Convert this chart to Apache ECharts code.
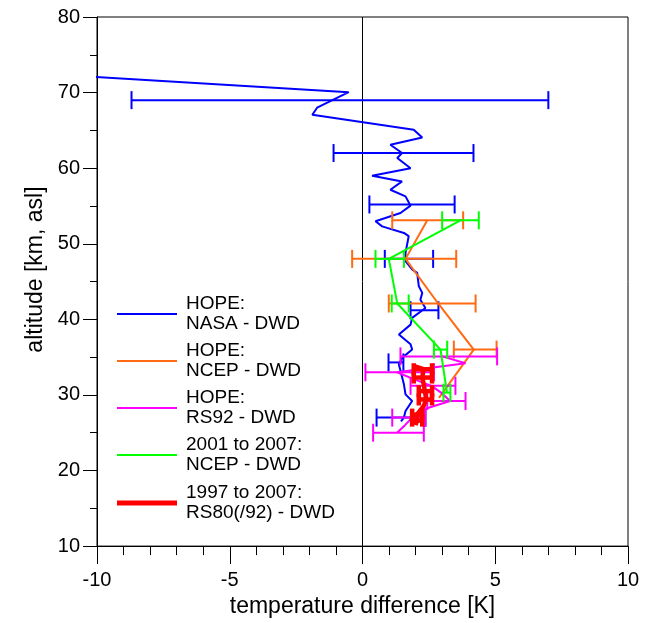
<!DOCTYPE html>
<html>
<head>
<meta charset="utf-8">
<script src="https://cdn.jsdelivr.net/npm/echarts@6/dist/echarts.min.js"></script>
<style>html,body{margin:0;padding:0;background:#fff;}#c{width:653px;height:623px;}</style>
</head>
<body>
<div id="c"></div>
<script>
// ---- data (temperature difference [K], altitude [km]) ----
const seriesNames = ["HOPE:\nNASA - DWD", "HOPE:\nNCEP - DWD", "HOPE:\nRS92 - DWD", "2001 to 2007:\nNCEP - DWD", "1997 to 2007:\nRS80(/92) - DWD"];
const xTickValues = [-10, -5, 0, 5, 10];
const yTickValues = [10, 20, 30, 40, 50, 60, 70, 80];

const nasaT = [-10.15, -0.52, -1.71, -1.89, 1.93, 2.25, 1.05, 1.49, 1.31, 1.81, 0.36, 1.49, 1.05, 1.62, 1.81, 1.43, 0.49, 0.74, 1.56, 1.74, 1.62, 1.62, 1.87, 2.06, 2.12, 2.25, 2.18, 2.37, 1.87, 1.81, 1.37, 1.81, 1.87, 1.49, 1.37, 1.56, 1.62, 1.87, 1.62, 1.56, 1.45];
const nasaAlt = [72.1, 70.06, 68.0, 67.06, 65.08, 64.06, 63.1, 62.0, 61.34, 60.0, 59.0, 58.25, 57.15, 56.27, 55.04, 54.07, 52.97, 52.3, 51.43, 51.0, 48.8, 47.7, 46.6, 46.15, 44.4, 43.5, 42.6, 41.5, 40.2, 39.3, 38.0, 36.7, 36.0, 34.9, 34.04, 31.4, 30.07, 29.2, 27.87, 27.0, 26.5];
const nasaErrAlt = [69.0, 62.0, 55.2, 48.0, 41.2, 34.3, 27.0];
const nasaErrLo = [-8.70, -1.09, 0.26, 0.84, 1.81, 0.98, 0.53];
const nasaErrHi = [7.00, 4.18, 3.47, 2.66, 2.86, 1.54, 2.37];

const ncepT = [2.44, 1.62, 2.85, 4.19, 2.88];
const ncepAlt = [53.1, 48.0, 42.1, 36.0, 29.6];
const ncepErrAlt = [53.1, 48.0, 42.1, 36.0];
const ncepErrLo = [1.12, -0.39, 0.99, 3.44];
const ncepErrHi = [3.79, 3.53, 4.26, 5.05];

const rs92T = [3.0, 3.88, 1.3, 2.0, 2.6, 3.0, 3.3, 2.4, 1.87, 1.6, 1.3];
const rs92Alt = [35.1, 34.2, 33.0, 32.0, 31.2, 30.2, 29.2, 28.2, 27.0, 26.0, 25.0];
const rs92ErrAlt = [35.1, 33.0, 31.2, 29.2, 27.0, 25.0];
const rs92ErrLo = [1.43, 0.11, 1.81, 2.44, 1.12, 0.40];
const rs92ErrHi = [5.07, 2.69, 3.50, 3.88, 2.37, 2.31];

const ncep0107T = [3.69, 0.99, 1.31, 2.94, 3.18];
const ncep0107Alt = [53.1, 48.0, 42.1, 36.0, 30.3];
const ncep0107ErrAlt = [53.1, 48.0, 42.1, 36.0, 30.3];
const ncep0107ErrLo = [3.00, 0.49, 1.10, 2.69, 3.05];
const ncep0107ErrHi = [4.38, 1.56, 1.74, 3.19, 3.31];

const rs80T = [1.95, 2.3, 2.25, 2.3, 2.35, 2.4, 2.3, 2.05, 2.05, 2.0];
const rs80Alt = [33.8, 33.4, 32.3, 31.5, 30.5, 29.4, 28.5, 27.4, 26.6, 26.0];
const rs80ErrAlt = [33.4, 32.3, 30.5, 29.4, 27.4, 26.6];
const rs80ErrLo = [1.93, 1.93, 2.12, 2.12, 1.87, 1.87];
const rs80ErrHi = [2.62, 2.62, 2.62, 2.62, 2.25, 2.25];

const colors = ['#0000ff', '#ff6a13', '#ff00ff', '#00ff00', '#ff0000'];
const widths = [2, 2, 2, 2, 4.5];
const capHalf = [9, 9, 9, 9, 6];

// ---- build ----
function zip(a, b) { return a.map((v, i) => [v, b[i]]); }
function errData(alt, lo, hi) { return alt.map((a, i) => [a, lo[i], hi[i]]); }
function errRender(color, width, h) {
  return function (params, api) {
    const alt = api.value(0), lo = api.value(1), hi = api.value(2);
    const p1 = api.coord([lo, alt]), p2 = api.coord([hi, alt]);
    const st = { stroke: color, lineWidth: width };
    return {
      type: 'group',
      children: [
        { type: 'line', shape: { x1: p1[0], y1: p1[1], x2: p2[0], y2: p2[1] }, style: st },
        { type: 'line', shape: { x1: p1[0], y1: p1[1] - h, x2: p1[0], y2: p1[1] + h }, style: st },
        { type: 'line', shape: { x1: p2[0], y1: p2[1] - h, x2: p2[0], y2: p2[1] + h }, style: st }
      ]
    };
  };
}
const lines = [zip(nasaT, nasaAlt), zip(ncepT, ncepAlt), zip(rs92T, rs92Alt), zip(ncep0107T, ncep0107Alt), zip(rs80T, rs80Alt)];
const errs = [errData(nasaErrAlt, nasaErrLo, nasaErrHi), errData(ncepErrAlt, ncepErrLo, ncepErrHi), errData(rs92ErrAlt, rs92ErrLo, rs92ErrHi), errData(ncep0107ErrAlt, ncep0107ErrLo, ncep0107ErrHi), errData(rs80ErrAlt, rs80ErrLo, rs80ErrHi)];

const series = [];
for (let i = 0; i < 5; i++) {
  series.push({
    type: 'line', name: seriesNames[i], data: lines[i], symbol: 'none', clip: i !== 0,
    lineStyle: { color: colors[i], width: widths[i] }, itemStyle: { color: colors[i] },
    z: 3 + i,
    markLine: i === 0 ? { silent: true, symbol: 'none', label: { show: false }, lineStyle: { color: '#000', width: 1, type: 'solid' }, data: [{ xAxis: 0 }], z: 1 } : undefined
  });
  series.push({
    type: 'custom', name: 'err' + i, data: errs[i], renderItem: errRender(colors[i], widths[i], capHalf[i]),
    encode: { x: [1, 2], y: 0 }, z: 3 + i, silent: true
  });
}

const font = 'Liberation Sans, Arial, sans-serif';
const legendText = { fontSize: 19, lineHeight: 20, color: '#000', fontFamily: font, padding: [0, 0, 0, 4] };
const chart = echarts.init(document.getElementById('c'));
chart.setOption({
  animation: false,
  backgroundColor: '#fff',
  textStyle: { fontFamily: font },
  grid: { left: 97, right: 25, top: 17, bottom: 76, show: true, borderColor: '#000', borderWidth: 1, backgroundColor: 'transparent' },
  legend: [{
    orient: 'vertical', left: 117, top: 294, padding: 0, itemWidth: 60, itemHeight: 2, itemGap: 7,
    selectedMode: false, icon: 'rect',
    data: seriesNames.slice(0, 4),
    textStyle: legendText
  }, {
    orient: 'vertical', left: 117, top: 483, padding: 0, itemWidth: 60, itemHeight: 5, itemGap: 7,
    selectedMode: false, icon: 'rect',
    data: seriesNames.slice(4),
    textStyle: legendText
  }],
  xAxis: {
    type: 'value', min: -10, max: 10, interval: 5,
    name: 'temperature difference [K]', nameLocation: 'middle', nameGap: 44,
    nameTextStyle: { fontSize: 23, color: '#000', fontFamily: font },
    axisLine: { onZero: false, lineStyle: { color: '#000', width: 1 } },
    axisTick: { show: true, length: 18, lineStyle: { color: '#000' } },
    minorTick: { show: true, splitNumber: 5, length: 9, lineStyle: { color: '#000' } },
    splitLine: { show: false }, minorSplitLine: { show: false },
    axisLabel: { fontSize: 20, color: '#000', margin: 24, fontFamily: font, formatter: v => xTickValues.includes(v) ? String(v) : '' }
  },
  yAxis: {
    type: 'value', min: 10, max: 80, interval: 10,
    name: 'altitude [km, asl]', nameLocation: 'middle', nameGap: 50,
    nameTextStyle: { fontSize: 23, color: '#000', fontFamily: font, padding: [0, 0, 0, 24] },
    axisLine: { onZero: false, lineStyle: { color: '#000', width: 1 } },
    axisTick: { show: true, length: 14, lineStyle: { color: '#000' } },
    minorTick: { show: true, splitNumber: 2, length: 7, lineStyle: { color: '#000' } },
    splitLine: { show: false }, minorSplitLine: { show: false },
    axisLabel: { fontSize: 20, color: '#000', margin: 17, fontFamily: font, formatter: v => yTickValues.includes(v) ? String(v) : '' }
  },
  series: series
});
</script>
</body>
</html>
